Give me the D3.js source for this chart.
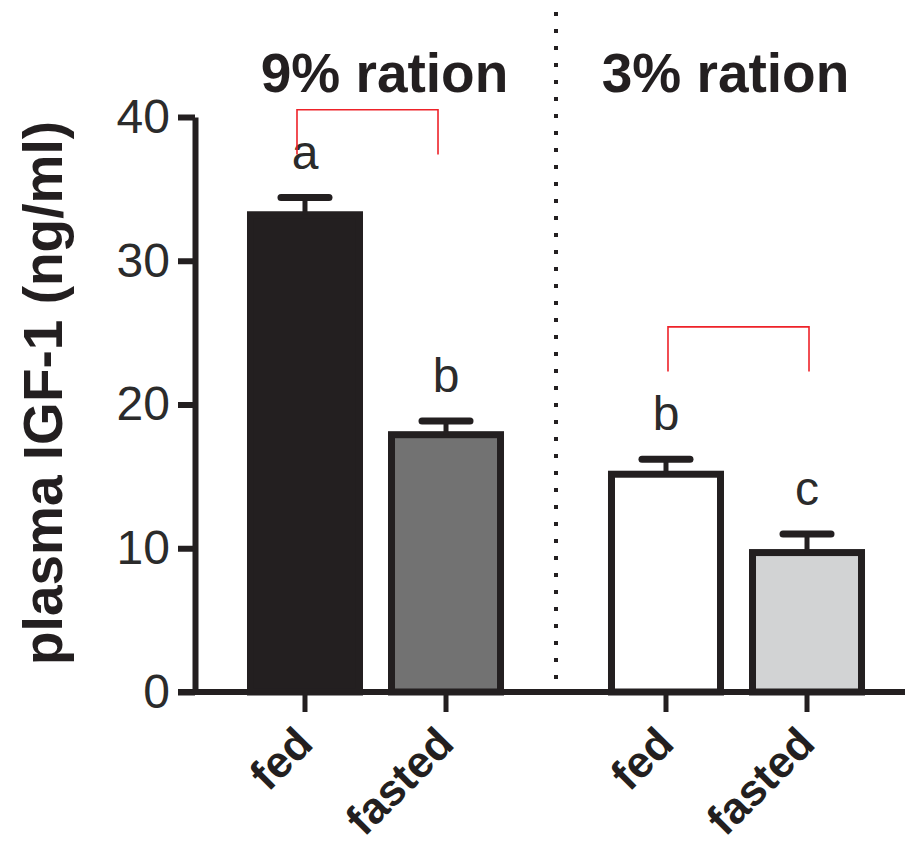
<!DOCTYPE html>
<html>
<head>
<meta charset="utf-8">
<script src="https://cdn.jsdelivr.net/npm/d3@7"></script>
<style>
  html, body { margin: 0; padding: 0; background: #fff; }
  svg { display: block; font-family: "Liberation Sans", Arial, sans-serif; }
</style>
</head>
<body>
<svg id="chart" width="905" height="848"></svg>
<script>
// ---- data ----
const groups = ["9% ration", "3% ration"];
const conditions = ["fed", "fasted"];
const means9 = [33.2, 17.9];
const sems9 = [1.2, 0.95];
const means3 = [15.15, 9.7];
const sems3 = [1.05, 1.3];
const letters9 = ["a", "b"];
const letters3 = ["b", "c"];
const yTicks = [0, 10, 20, 30, 40];
const bracketTop = [40.5, 25.4];
const bracketLeg = [37.4, 22.3];
const yLabel = "plasma IGF-1 (ng/ml)";
const fills = ["#231f20", "#727272", "#ffffff", "#d2d3d4"];

const bars = [];
groups.forEach((g, gi) => {
  const m = gi === 0 ? means9 : means3;
  const s = gi === 0 ? sems9 : sems3;
  const l = gi === 0 ? letters9 : letters3;
  conditions.forEach((c, ci) => {
    bars.push({ group: g, cond: c, mean: m[ci], sem: s[ci], letter: l[ci], idx: gi * 2 + ci });
  });
});

const ink = "#231f20";
const svg = d3.select("#chart");

const y = d3.scaleLinear().domain([0, 40]).range([692, 117]);
const xGroup = d3.scaleBand().domain(groups).range([195, 917]);
const xInner = d3.scalePoint().domain(conditions).range([0, xGroup.bandwidth()]).padding(0.78);
const xPos = d => xGroup(d.group) + xInner(d.cond);
const barW = 109;

// divider dotted line
svg.append("line")
  .attr("x1", xGroup(groups[1])).attr("x2", xGroup(groups[1]))
  .attr("y1", 12).attr("y2", y(0))
  .attr("stroke", ink).attr("stroke-width", 4)
  .attr("stroke-dasharray", "4 13");

// bars
svg.selectAll("rect.bar").data(bars).enter().append("rect")
  .attr("class", "bar")
  .attr("x", d => xPos(d) - barW / 2)
  .attr("width", barW)
  .attr("y", d => y(d.mean))
  .attr("height", d => y(0) - y(d.mean))
  .attr("fill", d => fills[d.idx])
  .attr("stroke", ink)
  .attr("stroke-width", 7);

// error bars
svg.selectAll("line.stem").data(bars).enter().append("line")
  .attr("x1", d => xPos(d)).attr("x2", d => xPos(d))
  .attr("y1", d => y(d.mean)).attr("y2", d => y(d.mean + d.sem))
  .attr("stroke", ink).attr("stroke-width", 5);
svg.selectAll("line.cap").data(bars).enter().append("line")
  .attr("x1", d => xPos(d) - 24).attr("x2", d => xPos(d) + 24)
  .attr("y1", d => y(d.mean + d.sem)).attr("y2", d => y(d.mean + d.sem))
  .attr("stroke", ink).attr("stroke-width", 7).attr("stroke-linecap", "round");

// letters
svg.selectAll("text.letter").data(bars).enter().append("text")
  .attr("x", d => xPos(d)).attr("y", d => y(d.mean + d.sem) - 29)
  .attr("text-anchor", "middle")
  .attr("font-size", 48).attr("fill", "#2b2b2b")
  .text(d => d.letter);

// brackets
groups.forEach((g, gi) => {
  const off = gi === 0 ? -8 : 2;
  const x1 = xGroup(g) + xInner(conditions[0]) + off;
  const x2 = xGroup(g) + xInner(conditions[1]) + off;
  const path = d3.path();
  path.moveTo(x1, y(bracketLeg[gi]));
  path.lineTo(x1, y(bracketTop[gi]));
  path.lineTo(x2, y(bracketTop[gi]));
  path.lineTo(x2, y(bracketLeg[gi]));
  svg.append("path").attr("d", path.toString())
    .attr("fill", "none").attr("stroke", "#ee2229").attr("stroke-width", 1.6);
});

// y axis
const yAxis = svg.append("g").attr("transform", "translate(195,0)")
  .call(d3.axisLeft(y).tickValues(yTicks).tickSize(17).tickSizeOuter(0).tickPadding(8));
yAxis.select(".domain").attr("stroke", ink).attr("stroke-width", 6);
yAxis.selectAll(".tick line").attr("stroke", ink).attr("stroke-width", 6);
yAxis.selectAll(".tick text").attr("font-size", 48).attr("fill", "#2b2b2b")
  .attr("font-family", "Liberation Sans, Arial, sans-serif");

// x axis line
svg.append("line")
  .attr("x1", 178).attr("x2", 905)
  .attr("y1", y(0)).attr("y2", y(0))
  .attr("stroke", ink).attr("stroke-width", 6);

// x ticks
svg.selectAll("line.xtick").data(bars).enter().append("line")
  .attr("x1", d => xPos(d)).attr("x2", d => xPos(d))
  .attr("y1", y(0)).attr("y2", y(0) + 20)
  .attr("stroke", ink).attr("stroke-width", 5);

// x labels
svg.selectAll("text.xlab").data(bars).enter().append("text")
  .attr("transform", d => `translate(${xPos(d) + 10},${y(0) + 54}) rotate(-45)`)
  .attr("text-anchor", "end")
  .attr("font-size", 44).attr("font-weight", "bold").attr("fill", ink)
  .text(d => d.cond);

// group titles
svg.selectAll("text.title").data(groups).enter().append("text")
  .attr("x", (d, i) => xGroup(d) + xGroup.bandwidth() / 2 + (i === 0 ? 9 : -11))
  .attr("y", 92)
  .attr("text-anchor", "middle")
  .attr("font-size", 55).attr("font-weight", "bold").attr("fill", ink)
  .text(d => d);

// y label
svg.append("text")
  .attr("transform", "translate(62,393) rotate(-90)")
  .attr("text-anchor", "middle")
  .attr("font-size", 55).attr("font-weight", "bold").attr("fill", ink)
  .text(yLabel);
</script>
</body>
</html>
